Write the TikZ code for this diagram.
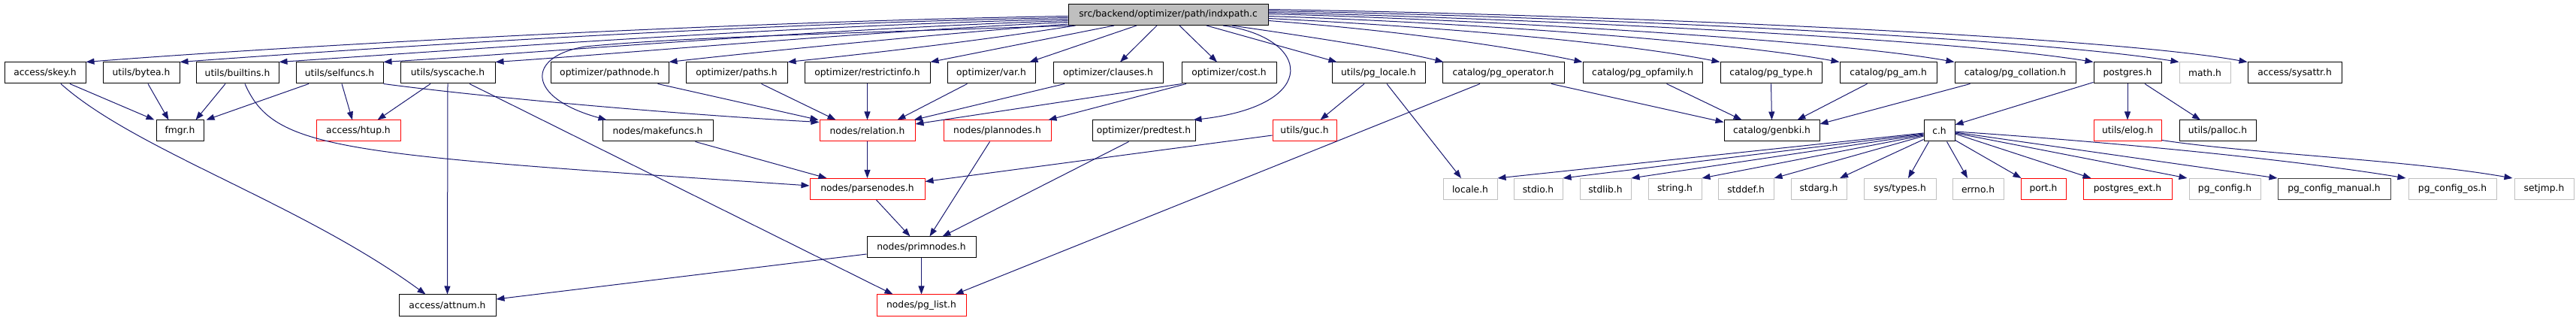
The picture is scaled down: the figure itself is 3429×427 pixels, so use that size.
\documentclass[tikz,border=0pt]{standalone}
\usepackage{fontspec}
\setmainfont{DejaVu Sans}
\usetikzlibrary{arrows.meta,calc}
\definecolor{edgec}{HTML}{191970}
\definecolor{grayb}{HTML}{BFBFBF}
\definecolor{darkb}{HTML}{404040}
\definecolor{rootfill}{HTML}{BFBFBF}
\begin{document}
\begin{tikzpicture}[x=1pt,y=-1pt,
  box/.style={draw=black, line width=1pt, fill=white, minimum height=28pt, inner sep=0pt, font=\fontsize{12.3}{14}\selectfont},
  redbox/.style={box, draw=red},
  graybox/.style={box, draw=grayb},
  darkbox/.style={box, draw=darkb},
  rootbox/.style={box, fill=rootfill},
  conn/.style={draw=edgec, line width=1pt, -{Triangle[length=11pt,width=8pt]}},
]
\useasboundingbox (0,0) rectangle (3429,427);
% row 0
\node[rootbox, minimum width=266pt] (root) at (1555,19.5) {src/backend/optimizer/path/indxpath.c};
% row 1
\node[box, minimum width=108pt] (skey) at (60,97) {access/skey.h};
\node[box, minimum width=102pt] (bytea) at (188,97) {utils/bytea.h};
\node[box, minimum width=110pt] (builtins) at (316,97) {utils/builtins.h};
\node[box, minimum width=116pt] (selfuncs) at (452,97) {utils/selfuncs.h};
\node[box, minimum width=126pt] (syscache) at (596,97) {utils/syscache.h};
\node[box, minimum width=157pt] (pathnode) at (811.5,97) {optimizer/pathnode.h};
\node[box, minimum width=135pt] (paths) at (980.5,97) {optimizer/paths.h};
\node[box, minimum width=167pt] (restrictinfo) at (1154.5,97) {optimizer/restrictinfo.h};
\node[box, minimum width=117pt] (var) at (1319.5,97) {optimizer/var.h};
\node[box, minimum width=146pt] (clauses) at (1475,97) {optimizer/clauses.h};
\node[box, minimum width=126pt] (cost) at (1636,97) {optimizer/cost.h};
\node[box, minimum width=124pt] (pglocale) at (1835,97) {utils/pg\_locale.h};
\node[box, minimum width=162pt] (pgoperator) at (2001,97) {catalog/pg\_operator.h};
\node[box, minimum width=159pt] (pgopfamily) at (2186.5,97) {catalog/pg\_opfamily.h};
\node[box, minimum width=135pt] (pgtype) at (2357.5,97) {catalog/pg\_type.h};
\node[box, minimum width=129pt] (pgam) at (2513.5,97) {catalog/pg\_am.h};
\node[box, minimum width=161pt] (pgcollation) at (2682.5,97) {catalog/pg\_collation.h};
\node[box, minimum width=90pt] (postgres) at (2832,97) {postgres.h};
\node[graybox, minimum width=68pt] (math) at (2935,97) {math.h};
\node[box, minimum width=125pt] (sysattr) at (3054.5,97) {access/sysattr.h};
% row 2
\node[box, minimum width=63pt] (fmgr) at (239.5,174) {fmgr.h};
\node[redbox, minimum width=112pt] (htup) at (477,174) {access/htup.h};
\node[box, minimum width=147pt] (makefuncs) at (875.5,174) {nodes/makefuncs.h};
\node[redbox, minimum width=127pt] (relation) at (1154.5,174) {nodes/relation.h};
\node[redbox, minimum width=143pt] (plannodes) at (1327.5,174) {nodes/plannodes.h};
\node[box, minimum width=137pt] (predtest) at (1522.5,174) {optimizer/predtest.h};
\node[redbox, minimum width=85pt] (guc) at (1736.5,174) {utils/guc.h};
\node[box, minimum width=127pt] (genbki) at (2358.5,174) {catalog/genbki.h};
\node[box, minimum width=41pt] (ch) at (2581.5,174) {c.h};
\node[redbox, minimum width=90pt] (elog) at (2832,174) {utils/elog.h};
\node[box, minimum width=102pt] (palloc) at (2952,174) {utils/palloc.h};
% row 3
\node[redbox, minimum width=153pt] (parsenodes) at (1154.5,251.5) {nodes/parsenodes.h};
\node[graybox, minimum width=72pt] (localeh) at (1957,251.5) {locale.h};
\node[graybox, minimum width=65pt] (stdio) at (2047.5,251.5) {stdio.h};
\node[graybox, minimum width=68pt] (stdlib) at (2137,251.5) {stdlib.h};
\node[graybox, minimum width=71pt] (string) at (2229.5,251.5) {string.h};
\node[graybox, minimum width=74pt] (stddef) at (2324,251.5) {stddef.h};
\node[graybox, minimum width=74pt] (stdarg) at (2421,251.5) {stdarg.h};
\node[graybox, minimum width=96pt] (systypes) at (2529,251.5) {sys/types.h};
\node[graybox, minimum width=68pt] (errno) at (2633,251.5) {errno.h};
\node[redbox, minimum width=60pt] (port) at (2720,251.5) {port.h};
\node[redbox, minimum width=118pt] (pgext) at (2832,251.5) {postgres\_ext.h};
\node[graybox, minimum width=95pt] (pgconfig) at (2961.5,251.5) {pg\_config.h};
\node[darkbox, minimum width=150pt] (pgcfgman) at (3107,251.5) {pg\_config\_manual.h};
\node[graybox, minimum width=117pt] (pgcfgos) at (3264.5,251.5) {pg\_config\_os.h};
\node[graybox, minimum width=79pt] (setjmp) at (3386.5,251.5) {setjmp.h};
% row 4, 5
\node[box, minimum width=145pt] (primnodes) at (1226.5,329) {nodes/primnodes.h};
\node[box, minimum width=129pt] (attnum) at (595.5,406) {access/attnum.h};
\node[redbox, minimum width=119pt] (pglist) at (1226.5,406) {nodes/pg\_list.h};

% root edges, left
\draw[conn] ($(root.west)+(0,2)$) .. controls (1000,28) and (400,60) .. (skey.north east);
\draw[conn] ($(root.west)+(0,4)$) .. controls (1000,31) and (520,62) .. (bytea.north east);
\draw[conn] ($(root.west)+(0,6)$) .. controls (1050,34) and (620,66) .. (builtins.north east);
\draw[conn] ($(root.west)+(0,8)$) .. controls (1100,38) and (720,70) .. (selfuncs.north east);
\draw[conn] ($(root.west)+(0,10)$) .. controls (1150,42) and (820,72) .. (syscache.north east);
\draw[conn] ($(root.south west)+(0,-2)$) .. controls (1250,45) and (1000,70) .. (pathnode.north east);
\draw[conn] ($(root.south west)+(5,0)$) .. controls (1100,45) and (900,50) .. (779,62) .. controls (700,75) and (700,130) .. ($(makefuncs.north west)+(6,0)$);
\draw[conn] ($(root.south west)+(10,0)$) .. controls (1300,55) and (1150,72) .. (paths.north east);
\draw[conn] ($(root.south)+(-72,0)$) -- (restrictinfo.north east);
\draw[conn] ($(root.south)+(-42,0)$) -- ($(var.north east)+(-8,0)$);
\draw[conn] ($(root.south)+(-15,0)$) -- ($(clauses.north)+(16,0)$);
\draw[conn] ($(root.south)+(15,0)$) -- ($(cost.north)+(-16,0)$);
\draw[conn] ($(root.south)+(73,0)$) .. controls (1745,50) and (1760,140) .. ($(predtest.north east)+(-3,0)$);
% root edges, right
\draw[conn] ($(root.south)+(51,0)$) -- ($(pglocale.north west)+(7,0)$);
\draw[conn] ($(root.south)+(85,0)$) .. controls (1750,50) and (1850,65) .. ($(pgoperator.north west)+(2,0)$);
\draw[conn] ($(root.east)+(0,8)$) .. controls (1850,40) and (2000,60) .. (pgopfamily.north west);
\draw[conn] ($(root.east)+(0,5)$) .. controls (1900,35) and (2150,55) .. (pgtype.north west);
\draw[conn] ($(root.east)+(0,2)$) .. controls (1950,30) and (2300,55) .. (pgam.north west);
\draw[conn] ($(root.east)+(0,-1)$) .. controls (2000,27) and (2450,55) .. (pgcollation.north west);
\draw[conn] ($(root.east)+(0,-3)$) .. controls (2050,25) and (2600,52) .. (postgres.north west);
\draw[conn] ($(root.east)+(0,-5)$) .. controls (2100,22) and (2700,50) .. (math.north west);
\draw[conn] ($(root.east)+(0,-7)$) .. controls (2150,20) and (2800,48) .. (sysattr.north west);

% secondary edges
\draw[conn] ($(skey.south)+(33,0)$) -- ($(fmgr.north west)+(-2,0)$);
\draw[conn] ($(skey.south)+(21,0)$) .. controls (180,200) and (400,270) .. ($(attnum.north west)+(36,0)$);
\draw[conn] ($(bytea.south)+(9,0)$) -- ($(fmgr.north)+(-15,0)$);
\draw[conn] ($(builtins.south)+(-16,0)$) -- ($(fmgr.north)+(21,0)$);
\draw[conn] ($(builtins.south)+(10,0)$) .. controls (365,200) and (450,205) .. ($(parsenodes.west)+(0,-4.5)$);
\draw[conn] ($(selfuncs.south)+(-41,0)$) -- ($(fmgr.north east)+(3,0)$);
\draw[conn] ($(selfuncs.south)+(3,0)$) -- ($(htup.north)+(-8,0)$);
\draw[conn] (selfuncs.south east) .. controls (650,130) and (900,152) .. ($(relation.north west)+(0,3)$);
\draw[conn] ($(syscache.south)+(-23,0)$) -- ($(htup.north east)+(-31,0)$);
\draw[conn] (syscache.south) -- (attnum.north);
\draw[conn] ($(syscache.south)+(29,0)$) -- ($(pglist.north west)+(22,0)$);
\draw[conn] ($(pathnode.south)+(64,0)$) -- ($(relation.north west)+(-1,0)$);
\draw[conn] ($(paths.south)+(33,0)$) -- ($(relation.north)+(-42,0)$);
\draw[conn] (restrictinfo.south) -- (relation.north);
\draw[conn] ($(var.south)+(-32,0)$) -- ($(relation.north)+(40,0)$);
\draw[conn] ($(clauses.south)+(-58,0)$) -- ($(relation.north east)+(-2,0)$);
\draw[conn] ($(cost.south)+(-63,0)$) -- ($(relation.east)+(0,-9)$);
\draw[conn] ($(cost.south)+(-57,0)$) -- ($(plannodes.north east)+(-4,0)$);
\draw[conn] ($(makefuncs.south)+(50,0)$) -- ($(parsenodes.north west)+(23,0)$);
\draw[conn] (relation.south) -- (parsenodes.north);
\draw[conn] ($(plannodes.south)+(-10,0)$) -- ($(primnodes.north)+(11,0)$);
\draw[conn] ($(predtest.south)+(-20,0)$) -- ($(primnodes.north)+(28,0)$);
\draw[conn] ($(guc.west)+(0,6)$) -- ($(parsenodes.east)+(0,-10)$);
\draw[conn] ($(parsenodes.south)+(12,0)$) -- ($(primnodes.north)+(-15,0)$);
\draw[conn] (primnodes.south) -- (pglist.north);
\draw[conn] ($(primnodes.west)+(0,9)$) -- ($(attnum.east)+(0,-8)$);
\draw[conn] ($(pgoperator.south)+(-31,0)$) -- ($(pglist.north east)+(-15,0)$);
\draw[conn] ($(pglocale.south)+(-19,0)$) -- ($(guc.north)+(21,0)$);
\draw[conn] ($(pglocale.south)+(11,0)$) -- ($(localeh.north)+(-12,0)$);
\draw[conn] ($(pgoperator.south)+(64,0)$) -- ($(genbki.north west)+(0,3)$);
\draw[conn] ($(pgopfamily.south)+(32,0)$) -- ($(genbki.north)+(-40,0)$);
\draw[conn] (pgtype.south) -- (genbki.north);
\draw[conn] ($(pgam.south)+(-28,0)$) -- ($(genbki.north)+(34,0)$);
\draw[conn] ($(pgcollation.south)+(-60,0)$) -- ($(genbki.east)+(0,-9)$);
\draw[conn] ($(postgres.south west)+(0,-2)$) -- ($(ch.east)+(0,-8)$);
\draw[conn] (postgres.south) -- (elog.north);
\draw[conn] ($(postgres.south)+(23,0)$) -- ($(palloc.north)+(-23,0)$);
\draw[conn] ($(elog.south east)+(0,-2)$) .. controls (3000,205) and (3200,212) .. ($(setjmp.north west)+(-2,0)$);
% c.h edges
\draw[conn] ($(ch.west)+(0,3)$) -- (localeh.north east);
\draw[conn] ($(ch.west)+(0,4)$) -- (stdio.north east);
\draw[conn] ($(ch.west)+(0,5)$) -- (stdlib.north east);
\draw[conn] ($(ch.west)+(0,6)$) -- (string.north east);
\draw[conn] ($(ch.west)+(0,7)$) -- (stddef.north east);
\draw[conn] ($(ch.south west)+(0,-3)$) -- ($(stdarg.north)+(28,0)$);
\draw[conn] ($(ch.south)+(-14,0)$) -- ($(systypes.north)+(11,0)$);
\draw[conn] ($(ch.south)+(10,0)$) -- ($(errno.north)+(-14,0)$);
\draw[conn] ($(ch.south east)+(0,-2)$) -- ($(port.north west)+(1,0)$);
\draw[conn] ($(ch.east)+(0,4)$) -- ($(pgext.north west)+(11,0)$);
\draw[conn] ($(ch.east)+(0,3)$) -- ($(pgconfig.north west)+(-2,0)$);
\draw[conn] ($(ch.east)+(0,2)$) -- (pgcfgman.north west);
\draw[conn] ($(ch.east)+(0,1)$) .. controls (2800,188) and (3050,212) .. ($(pgcfgos.north west)+(-3,0)$);
\end{tikzpicture}
\end{document}
